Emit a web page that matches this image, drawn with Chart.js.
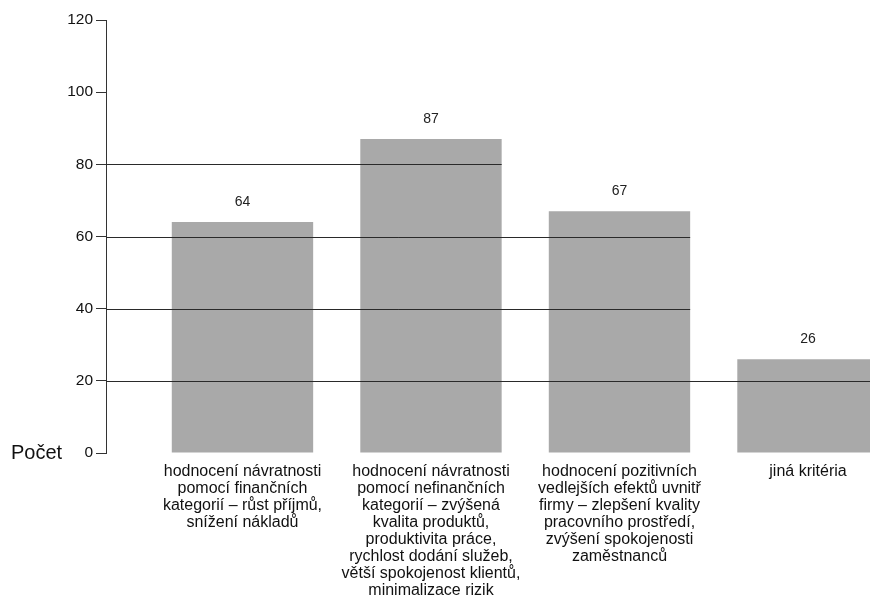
<!DOCTYPE html>
<html>
<head>
<meta charset="utf-8">
<script src="https://cdn.jsdelivr.net/npm/chart.js@4/dist/chart.umd.min.js"></script>
<style>
  html, body { margin: 0; padding: 0; background: #fff; overflow: hidden; }
  #wrap { width: 870px; height: 597px; position: relative; }
</style>
</head>
<body>
<div id="wrap"><canvas id="c" width="870" height="597"></canvas></div>
<script>
const categories = [
  ["hodnocení návratnosti", "pomocí finančních", "kategorií – růst příjmů,", "snížení nákladů"],
  ["hodnocení návratnosti", "pomocí nefinančních", "kategorií – zvýšená", "kvalita produktů,", "produktivita práce,", "rychlost dodání služeb,", "větší spokojenost klientů,", "minimalizace rizik"],
  ["hodnocení pozitivních", "vedlejších efektů uvnitř", "firmy – zlepšení kvality", "pracovního prostředí,", "zvýšení spokojenosti", "zaměstnanců"],
  ["jiná kritéria"]
];
const values = [64, 87, 67, 26];
const yTicks = [0, 20, 40, 60, 80, 100, 120];
const axisTitle = "Počet";

const FONT = "'Liberation Sans', Arial, sans-serif";

const partialGrid = {
  id: 'partialGrid',
  afterDatasetsDraw(chart) {
    const ctx = chart.ctx, y = chart.scales.y, area = chart.chartArea;
    const meta = chart.getDatasetMeta(0);
    ctx.save();
    ctx.strokeStyle = '#2a2a2a';
    ctx.lineWidth = 1;
    y.ticks.forEach(t => {
      if (t.value <= 0) return;
      let last = -1;
      values.forEach((v, i) => { if (v >= t.value) last = i; });
      if (last < 0) return;
      const bar = meta.data[last];
      const right = Math.min(area.right, bar.x + bar.width / 2);
      const py = Math.round(y.getPixelForValue(t.value)) + 0.5;
      ctx.beginPath();
      ctx.moveTo(area.left, py);
      ctx.lineTo(right, py);
      ctx.stroke();
    });
    ctx.restore();
  }
};

const valueLabels = {
  id: 'valueLabels',
  afterDatasetsDraw(chart) {
    const ctx = chart.ctx;
    const meta = chart.getDatasetMeta(0);
    ctx.save();
    ctx.font = "14px " + FONT;
    ctx.fillStyle = '#222';
    ctx.textAlign = 'center';
    ctx.textBaseline = 'middle';
    meta.data.forEach((bar, i) => {
      ctx.fillText(String(values[i]), bar.x, bar.y - 20);
    });
    ctx.restore();
  }
};

const titleLabel = {
  id: 'titleLabel',
  afterDraw(chart) {
    const ctx = chart.ctx, y = chart.scales.y;
    ctx.save();
    ctx.font = "20px " + FONT;
    ctx.fillStyle = '#111';
    ctx.textAlign = 'left';
    ctx.textBaseline = 'middle';
    ctx.fillText(axisTitle, 11, y.getPixelForValue(0));
    ctx.restore();
  }
};

new Chart(document.getElementById('c'), {
  type: 'bar',
  data: {
    datasets: [{
      data: values.map((v, i) => ({ x: i, y: v })),
      backgroundColor: '#a9a9a9',
      borderWidth: 0,
      barPercentage: 0.75,
      categoryPercentage: 1
    }]
  },
  options: {
    responsive: false,
    animation: false,
    events: [],
    layout: { padding: { top: 20, left: 0, right: 0, bottom: 0 } },
    plugins: { legend: { display: false }, tooltip: { enabled: false } },
    scales: {
      x: {
        type: 'linear',
        offset: false,
        min: -0.724,
        max: 3.329,
        grid: { display: false, offset: false },
        border: { display: false },
        afterBuildTicks(scale) { scale.ticks = categories.map((c, i) => ({ value: i })); },
        afterFit(scale) { scale.height = 144; },
        ticks: {
          autoSkip: false,
          maxRotation: 0,
          minRotation: 0,
          padding: 2,
          color: '#111',
          font: { family: FONT, size: 16, lineHeight: 1.0625 },
          callback: (v) => categories[v]
        }
      },
      y: {
        min: 0,
        max: 120,
        afterBuildTicks(scale) { scale.ticks = yTicks.map(v => ({ value: v })); },
        afterFit(scale) { scale.width = 106; },
        grid: { drawOnChartArea: false, drawTicks: true, tickLength: 10, color: '#333', lineWidth: 1 },
        border: { display: true, color: '#333', width: 1 },
        ticks: {
          padding: 3,
          color: '#111',
          font: { family: FONT, size: 15.5 }
        }
      }
    }
  },
  plugins: [partialGrid, valueLabels, titleLabel]
});
</script>
</body>
</html>
